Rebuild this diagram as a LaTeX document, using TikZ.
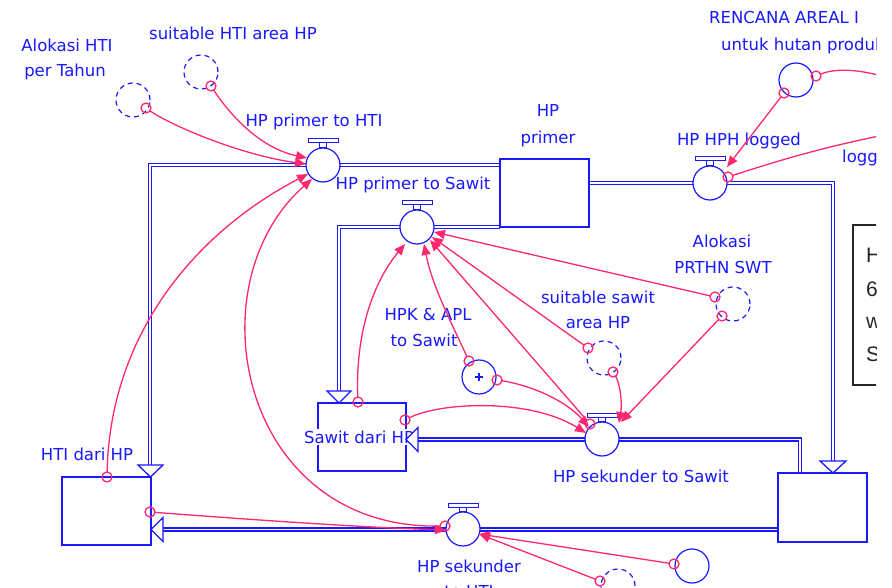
\documentclass[tikz,border=0pt]{standalone}
\usepackage{fontspec}
\setmainfont{DejaVu Sans}
\newfontfamily\boxfont{Liberation Sans}
\usetikzlibrary{arrows.meta}
\definecolor{vblue}{RGB}{25,25,255}
\definecolor{vpink}{RGB}{255,40,110}
\newcommand\mkhandle[2]{%
  \draw[vblue,line width=1pt,fill=white] (#1-15,#2-26) rectangle (#1+15,#2-22);
  \draw[vblue,line width=1pt,fill=white] (#1-3.5,#2-22) rectangle (#1+3.5,#2-17.5);}
\begin{document}
\begin{tikzpicture}[x=1pt,y=-1pt,
  lbl/.style={text=vblue,font=\fontsize{16.5}{18}\selectfont,inner sep=0pt,anchor=base},
  lblw/.style={lbl,anchor=base west},
  stock/.style={draw=vblue,line width=1.6pt,rectangle,inner sep=0pt},
  valve/.style={draw=vblue,line width=1.2pt,circle,fill=white,minimum size=34pt,inner sep=0pt},
  auxc/.style={draw=vblue,line width=1.2pt,circle,minimum size=34pt,inner sep=0pt},
  auxd/.style={auxc,dash pattern=on 5pt off 4pt},
  pipe/.style={draw=vblue,line width=1.4pt,double=white,double distance=1.9pt},
  flowhead/.style={draw=vblue,line width=1.3pt,fill=white,line join=miter},
  link/.style={draw=vpink,line width=1.3pt,shorten <=4.5pt,-{Triangle[length=11pt,width=9pt]}},
  linkfree/.style={draw=vpink,line width=1.3pt,shorten <=4.5pt},
  src/.style={draw=vpink,line width=1.3pt,circle,minimum size=10pt,inner sep=0pt}]
\fill[white] (0,0) rectangle (892,588);
\useasboundingbox (0,0) rectangle (892,588);
\begin{scope}
\clip (0,0) rectangle (876,588);
% pipes
\draw[pipe] (500,165) -- (150,165) -- (150,466);
\draw[pipe] (500,227) -- (339,227) -- (339,392);
\draw[pipe] (589,183) -- (833,183) -- (833,462);
\draw[pipe] (800,473) -- (800,439.5) -- (417,439.5);
\draw[pipe] (778,529.5) -- (162,529.5);
% stocks
\node[stock,minimum width=89pt,minimum height=68pt] (hpprimer) at (544.5,193) {};
\node[stock,minimum width=89pt,minimum height=68pt] (htidari) at (106.5,511) {};
\node[stock,minimum width=88pt,minimum height=68pt] (sawitdari) at (362,437) {};
\node[stock,minimum width=89pt,minimum height=69pt] (hpsek) at (822.5,507.5) {};
\node[lbl,fill=white,inner sep=1.5pt] (lsawit) at (359,443) {Sawit dari HP};
% flow arrowheads
\draw[flowhead] (138,465) -- (163,465) -- (150.5,477) -- cycle;
\draw[flowhead] (327,391) -- (351,391) -- (339,403) -- cycle;
\draw[flowhead] (820,461) -- (846,461) -- (833,473) -- cycle;
\draw[flowhead] (418,427.5) -- (418,451.5) -- (406,439.5) -- cycle;
\draw[flowhead] (163,517.5) -- (163,541.5) -- (151,529.5) -- cycle;
% valves
\node[valve] (v1) at (323,165) {}; \mkhandle{323}{165}
\node[valve] (v2) at (417,227) {}; \mkhandle{417}{227}
\node[valve] (v3) at (710,183) {}; \mkhandle{710}{183}
\node[valve] (v4) at (602,439) {}; \mkhandle{602}{439}
\node[valve] (v5) at (463,529) {}; \mkhandle{463}{529}
% auxiliaries
\node[auxd] (a1) at (133,100) {};
\node[auxd] (a2) at (201,72) {};
\node[auxc] (a3) at (796,80) {};
\node[auxd] (a4) at (733,304) {};
\node[auxd] (a5) at (604,358) {};
\node[auxc] (a6) at (479,377) {};
\draw[vblue,line width=1.1pt] (475,377) -- (483,377) (479,373) -- (479,381);
\node[auxc] (a7) at (692,566) {};
\node[auxd] (a8) at (618,586) {};
% labels
\node[lbl] (l1a) at (67,52) {Alokasi HTI};
\node[lbl] (l1b) at (65,77) {per Tahun};
\node[lbl] (l2) at (233,40) {suitable HTI area HP};
\node[lbl] (l3) at (314,127) {HP primer to HTI};
\node[lbl] (l4) at (413,190) {HP primer to Sawit};
\node[lbl] (l5a) at (548,117) {HP};
\node[lbl] (l5b) at (548,144) {primer};
\node[lbl] (l6) at (739,146) {HP HPH logged};
\node[lblw] (l7a) at (709,24) {RENCANA AREAL I};
\node[lblw] (l7b) at (721,51) {untuk hutan produk};
\node[lblw] (l8) at (842,163) {logg};
\node[lbl] (l9a) at (722,248) {Alokasi};
\node[lbl] (l9b) at (723,273) {PRTHN SWT};
\node[lbl] (l10a) at (598,303) {suitable sawit};
\node[lbl] (l10b) at (598,328) {area HP};
\node[lbl] (l11a) at (428,320) {HPK \& APL};
\node[lbl] (l11b) at (424,346) {to Sawit};
\node[lbl] (l12) at (87,460) {HTI dari HP};
\node[lbl] (l13) at (641,482) {HP sekunder to Sawit};
\node[lbl] (l14a) at (469,572) {HP sekunder};
\node[lbl] (l14b) at (469,597) {to HTI};
% link sources
\coordinate (s1) at (146,108); \coordinate (s2) at (211,86);
\coordinate (s3) at (107,477); \coordinate (s4) at (445,526);
\coordinate (s5) at (150,512); \coordinate (s6) at (358,402);
\coordinate (s7) at (469,361); \coordinate (s8) at (497,380);
\coordinate (s9) at (405,420); \coordinate (s10) at (588,348);
\coordinate (s11) at (613,372); \coordinate (s12) at (715,297);
\coordinate (s13) at (722,316); \coordinate (s14) at (590,424);
\coordinate (s15) at (784,93); \coordinate (s16) at (816,76);
\coordinate (s17) at (728,177); \coordinate (s18) at (674,564);
\coordinate (s19) at (600,581);
% link targets
\coordinate (t1) at (306,164); \coordinate (t2) at (307,158);
\coordinate (t3) at (308,174); \coordinate (t4) at (312,179);
\coordinate (t5) at (446,530); \coordinate (t6) at (405,244);
\coordinate (t7) at (424,244); \coordinate (t8) at (430,240);
\coordinate (t9) at (432,237); \coordinate (t10) at (434,232);
\coordinate (t11) at (589,427); \coordinate (t12) at (586,433);
\coordinate (t13) at (619,423); \coordinate (t14) at (621,422);
\coordinate (t15) at (727,167); \coordinate (e16) at (920,90);
\coordinate (e17) at (900,132); \coordinate (t18) at (479,534);
\coordinate (t19) at (479,534);
% links
\draw[link] (s1) .. controls (170,125) and (240,155) .. (t1);
\draw[link] (s2) .. controls (230,115) and (260,148) .. (t2);
\draw[link] (s3) .. controls (110,330) and (200,230) .. (t3);
\draw[link] (s4) .. controls (240,530) and (192,285) .. (t4);
\draw[link] (s5) .. controls (230,518) and (350,527) .. (t5);
\draw[link] (s6) .. controls (355,330) and (375,280) .. (t6);
\draw[link] (s7) .. controls (450,320) and (432,285) .. (t7);
\draw[link] (s14) -- (t8);
\draw[link] (s10) -- (t9);
\draw[link] (s12) -- (t10);
\draw[link] (s8) .. controls (530,385) and (565,400) .. (t11);
\draw[link] (s9) .. controls (440,402) and (530,398) .. (t12);
\draw[link] (s11) .. controls (621,385) and (622,405) .. (t13);
\draw[link] (s13) -- (t14);
\draw[link] (s15) -- (t15);
\draw[linkfree] (s16) .. controls (840,66) and (875,70) .. (e16);
\draw[linkfree] (s17) .. controls (780,160) and (830,145) .. (e17);
\draw[link] (s18) -- (t18);
\draw[link] (s19) -- (t19);
\foreach \s in {s1,s2,s3,s4,s5,s6,s7,s8,s9,s10,s11,s12,s13,s14,s15,s16,s17,s18,s19}
  \node[src] at (\s) {};
% right text box
\draw[black!85,line width=1.3pt] (853,225) rectangle (960,385);
\node[font=\boxfont\fontsize{21}{23}\selectfont,text=black!85,anchor=base west,inner sep=0pt] (b1) at (866,263) {H};
\node[font=\boxfont\fontsize{21}{23}\selectfont,text=black!85,anchor=base west,inner sep=0pt] (b2) at (866,296) {6};
\node[font=\boxfont\fontsize{21}{23}\selectfont,text=black!85,anchor=base west,inner sep=0pt] (b3) at (866,328) {w};
\node[font=\boxfont\fontsize{21}{23}\selectfont,text=black!85,anchor=base west,inner sep=0pt] (b4) at (866,361) {S};
\end{scope}
\end{tikzpicture}
\end{document}
